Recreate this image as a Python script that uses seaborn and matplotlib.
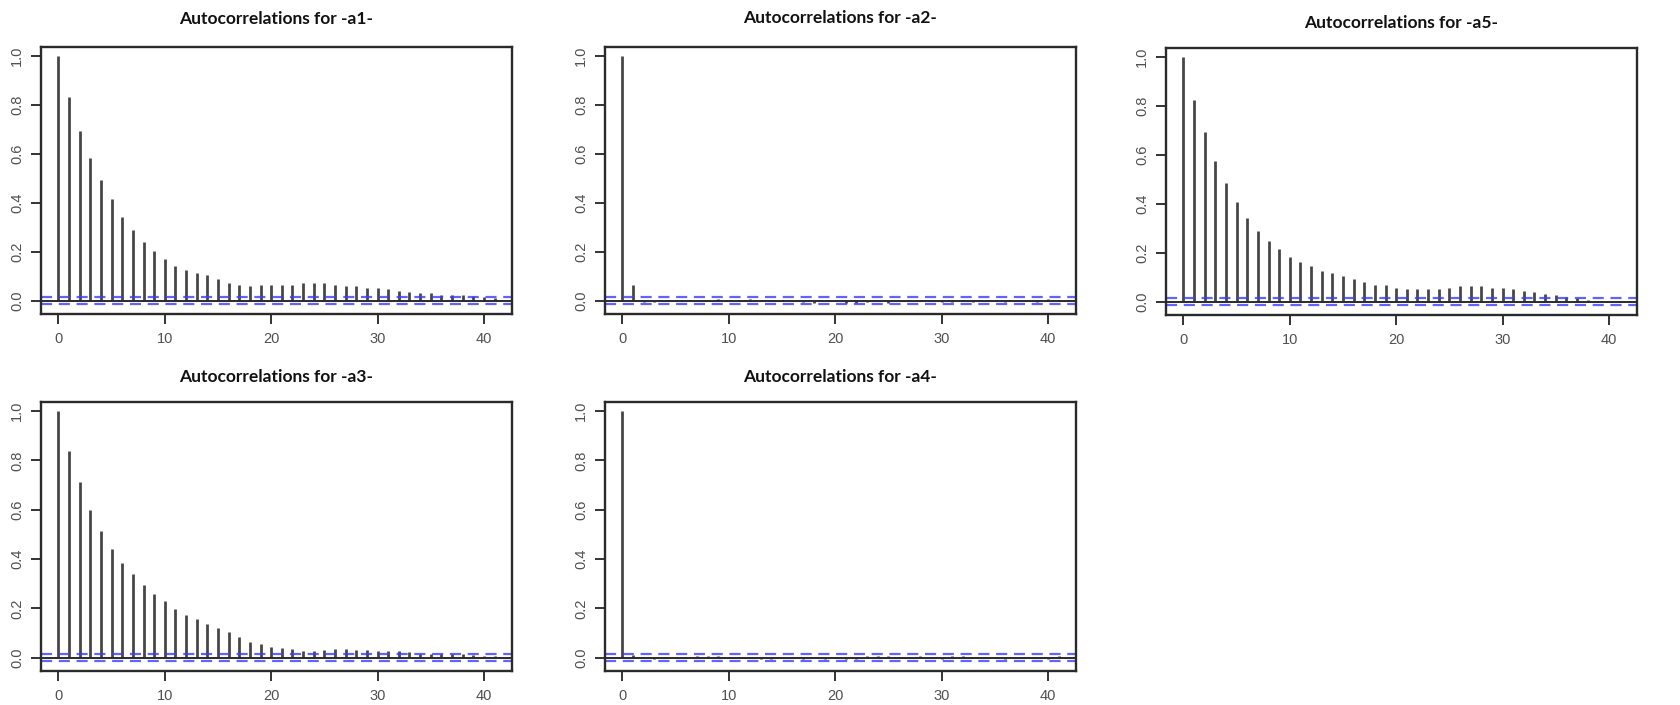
import numpy as np
import pandas as pd
import matplotlib
matplotlib.use("Agg")
import matplotlib.pyplot as plt
import seaborn as sns

lags = list(range(42))

acf_a1 = [1.0, 0.831, 0.695, 0.584, 0.492, 0.416, 0.343, 0.289, 0.241, 0.202,
          0.169, 0.142, 0.125, 0.114, 0.104, 0.087, 0.074, 0.065, 0.060, 0.065,
          0.065, 0.065, 0.065, 0.071, 0.071, 0.071, 0.065, 0.060, 0.060, 0.054,
          0.054, 0.049, 0.041, 0.035, 0.033, 0.030, 0.025, 0.022, 0.022, 0.019,
          0.016, 0.012]
acf_a2 = [1.0, 0.064, -0.004, -0.006, 0.003, 0.004, -0.002, 0.002, -0.001, 0.008,
          0.002, 0.004, 0.006, -0.002, 0.004, 0.003, 0.004, -0.003, -0.009, -0.002,
          0.001, -0.008, -0.008, -0.006, 0.002, -0.008, 0.001, -0.002, 0.004, 0.003,
          -0.006, -0.004, 0.003, -0.003, 0.004, 0.003, -0.003, 0.002, 0.001, -0.003,
          0.007, 0.003]
acf_a5 = [1.0, 0.825, 0.693, 0.577, 0.486, 0.408, 0.342, 0.288, 0.248, 0.217,
          0.183, 0.161, 0.145, 0.127, 0.117, 0.106, 0.095, 0.079, 0.068, 0.068,
          0.057, 0.052, 0.052, 0.052, 0.052, 0.057, 0.063, 0.063, 0.063, 0.057,
          0.057, 0.052, 0.046, 0.041, 0.033, 0.027, 0.019, 0.014, 0.008, 0.005,
          0.001, 0.005]
acf_a3 = [1.0, 0.837, 0.711, 0.600, 0.514, 0.442, 0.383, 0.339, 0.296, 0.258,
          0.231, 0.197, 0.175, 0.155, 0.137, 0.121, 0.103, 0.083, 0.065, 0.056,
          0.045, 0.041, 0.034, 0.027, 0.027, 0.031, 0.034, 0.034, 0.031, 0.031,
          0.027, 0.027, 0.027, 0.022, 0.016, 0.016, 0.016, 0.014, 0.014, 0.011,
          0.008, 0.005]
acf_a4 = [1.0, 0.012, -0.002, -0.004, 0.002, -0.003, 0.004, 0.006, 0.008, 0.008,
          0.002, -0.002, 0.001, -0.006, -0.005, 0.001, 0.002, -0.006, -0.002, -0.004,
          0.002, -0.005, -0.004, 0.008, 0.008, 0.007, 0.001, 0.002, 0.005, -0.003,
          -0.004, 0.005, 0.005, 0.003, 0.001, 0.002, -0.004, 0.001, 0.002, 0.003,
          -0.006, 0.006]

series_names = ["a1", "a2", "a5", "a3", "a4"]
conf_limit = 0.015
yticks = [0.0, 0.2, 0.4, 0.6, 0.8, 1.0]
ytick_labels = ["0.0", "0.2", "0.4", "0.6", "0.8", "1.0"]
xticks = [0, 10, 20, 30, 40]

data = {"a1": acf_a1, "a2": acf_a2, "a5": acf_a5, "a3": acf_a3, "a4": acf_a4}

sns.set_theme(style="white")
plt.rcParams["font.family"] = ["Liberation Sans", "DejaVu Sans"]

W, H = 1681, 705
fig = plt.figure(figsize=(W / 100, H / 100), dpi=100)

# panel boxes in pixels: left, right, top, bottom, title center y
boxes = {
    "a1": (41, 512, 47, 314, 19),
    "a2": (605, 1076, 47, 314, 18),
    "a5": (1166, 1637, 48, 315, 23),
    "a3": (41, 512, 402, 671, 377),
    "a4": (605, 1076, 402, 671, 377),
}

tick_color = "#505050"
for name in series_names:
    l, r, t, b, ty = boxes[name]
    ax = fig.add_axes([l / W, 1 - b / H, (r - l) / W, (b - t) / H])
    df = pd.DataFrame({"lag": lags, "acf": data[name]})
    ax.vlines(df["lag"], 0, df["acf"], color="#474747", lw=2.0)
    ax.axhline(0, color="#2a2a2a", lw=1.4)
    for c in (conf_limit, -conf_limit):
        ax.axhline(c, color="#3b3bff", lw=1.6, ls=(0, (5, 3)), alpha=0.8)
    ax.set_xlim(-1.64, 42.64)
    ax.set_ylim(-0.054, 1.037)
    ax.set_xticks(xticks)
    ax.set_xticklabels([str(v) for v in xticks])
    ax.set_yticks(yticks)
    ax.set_yticklabels(ytick_labels, rotation=90, va="center")
    ax.tick_params(axis="both", which="both", direction="out", length=7,
                   width=1.4, color="#333333", labelcolor=tick_color,
                   labelsize=10.5, bottom=True, left=True)
    ax.tick_params(axis="x", pad=6)
    ax.tick_params(axis="y", pad=5)
    for sp in ax.spines.values():
        sp.set_visible(True)
        sp.set_color("#2a2a2a")
        sp.set_linewidth(1.7)
    ax.grid(False)
    fig.text((l + r) / 2 / W, 1 - ty / H, f"Autocorrelations for -{name}-",
             ha="center", va="center", fontsize=12.5, fontweight="bold",
             family=["Lato", "DejaVu Sans"], color="#111111")

fig.savefig("out.png", dpi=100)
